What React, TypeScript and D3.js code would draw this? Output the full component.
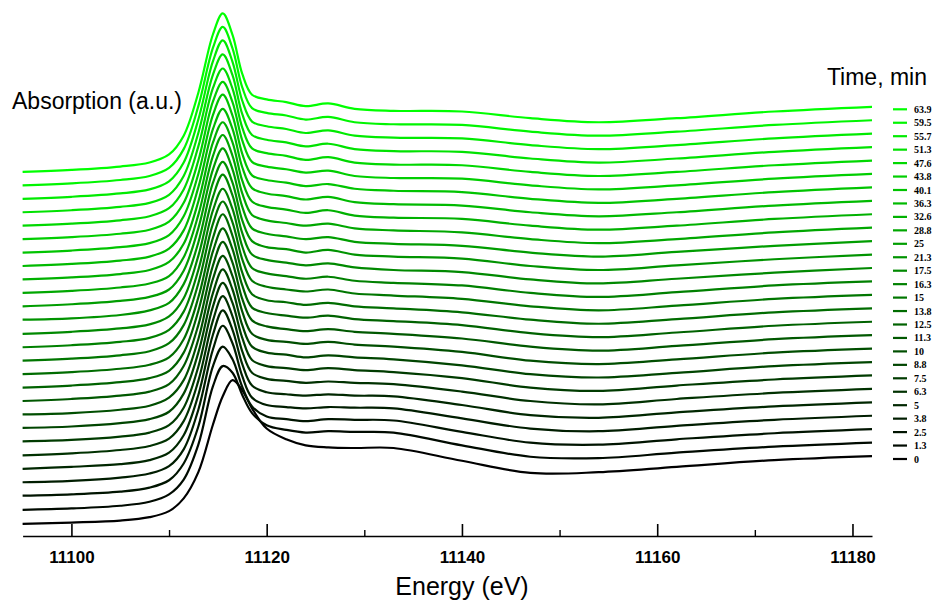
import React, { useRef, useEffect } from 'react';
import * as d3 from 'd3';

// time of each scan (min)
const times = [0, 1.3, 2.5, 3.8, 5, 6.3, 7.5, 8.8, 10, 11.3, 12.5, 13.8, 15, 16.3, 17.5,
  21.3, 25, 28.8, 32.6, 36.3, 40.1, 43.8, 47.6, 51.3, 55.7, 59.5, 63.9];

// energy grid (eV) where the spectra were read
const energies = [11095, 11100, 11105, 11108, 11110, 11111.5, 11113, 11114.5, 11115.5, 11116.5,
  11117.5, 11118.5, 11120, 11122, 11124, 11126.3, 11129, 11133, 11140, 11147, 11154, 11162, 11172, 11182];

// normalised absorption, one row per scan (before the stacking offset)
const spectra = [
  [0.00, 0.02, 0.05, 0.10, 0.19, 0.38, 0.77, 1.48, 1.90, 2.14, 1.99, 1.72, 1.42, 1.26, 1.17, 1.14, 1.13, 1.13, 0.94, 0.76, 0.77, 0.85, 0.95, 1.01],
  [0.01, 0.03, 0.07, 0.13, 0.24, 0.46, 0.98, 1.85, 2.15, 2.05, 1.72, 1.45, 1.27, 1.20, 1.16, 1.18, 1.17, 1.16, 0.97, 0.80, 0.78, 0.86, 0.95, 1.01],
  [0.02, 0.04, 0.08, 0.14, 0.25, 0.50, 1.05, 1.95, 2.24, 2.05, 1.64, 1.35, 1.20, 1.16, 1.13, 1.16, 1.15, 1.14, 0.97, 0.81, 0.78, 0.86, 0.95, 1.01],
  [0.02, 0.04, 0.09, 0.15, 0.26, 0.51, 1.10, 2.00, 2.35, 2.09, 1.60, 1.28, 1.17, 1.14, 1.12, 1.14, 1.13, 1.12, 0.97, 0.82, 0.78, 0.86, 0.95, 1.01],
  [0.02, 0.05, 0.09, 0.15, 0.26, 0.52, 1.12, 2.02, 2.38, 2.09, 1.58, 1.26, 1.16, 1.13, 1.11, 1.13, 1.11, 1.10, 0.97, 0.82, 0.78, 0.86, 0.95, 1.01],
  [0.02, 0.05, 0.10, 0.16, 0.27, 0.53, 1.13, 2.03, 2.39, 2.09, 1.57, 1.25, 1.16, 1.13, 1.10, 1.12, 1.10, 1.08, 0.97, 0.83, 0.78, 0.86, 0.95, 1.01],
  [0.03, 0.05, 0.10, 0.16, 0.27, 0.53, 1.14, 2.04, 2.39, 2.09, 1.57, 1.24, 1.15, 1.12, 1.09, 1.12, 1.09, 1.06, 0.97, 0.83, 0.78, 0.86, 0.95, 1.01],
  [0.03, 0.05, 0.10, 0.16, 0.27, 0.54, 1.15, 2.04, 2.39, 2.09, 1.56, 1.24, 1.15, 1.12, 1.08, 1.11, 1.08, 1.05, 0.96, 0.83, 0.78, 0.85, 0.95, 1.01],
  [0.03, 0.05, 0.10, 0.16, 0.28, 0.54, 1.15, 2.05, 2.39, 2.09, 1.56, 1.23, 1.14, 1.11, 1.08, 1.11, 1.07, 1.04, 0.96, 0.83, 0.78, 0.85, 0.95, 1.01],
  [0.03, 0.06, 0.11, 0.17, 0.28, 0.55, 1.16, 2.05, 2.40, 2.09, 1.55, 1.23, 1.14, 1.10, 1.07, 1.10, 1.06, 1.03, 0.96, 0.84, 0.78, 0.85, 0.95, 1.01],
  [0.03, 0.06, 0.11, 0.17, 0.28, 0.55, 1.17, 2.06, 2.40, 2.09, 1.55, 1.22, 1.14, 1.10, 1.07, 1.10, 1.05, 1.02, 0.96, 0.84, 0.78, 0.85, 0.95, 1.01],
  [0.03, 0.06, 0.11, 0.17, 0.28, 0.55, 1.17, 2.06, 2.41, 2.09, 1.54, 1.22, 1.13, 1.10, 1.06, 1.09, 1.04, 1.01, 0.95, 0.84, 0.78, 0.85, 0.95, 1.01],
  [0.03, 0.06, 0.11, 0.17, 0.29, 0.56, 1.18, 2.07, 2.40, 2.09, 1.54, 1.22, 1.13, 1.09, 1.06, 1.09, 1.03, 1.00, 0.95, 0.84, 0.78, 0.85, 0.95, 1.01],
  [0.03, 0.06, 0.11, 0.17, 0.29, 0.56, 1.18, 2.07, 2.39, 2.09, 1.53, 1.21, 1.13, 1.09, 1.05, 1.08, 1.02, 0.99, 0.95, 0.84, 0.78, 0.85, 0.95, 1.01],
  [0.03, 0.06, 0.11, 0.17, 0.29, 0.56, 1.19, 2.07, 2.40, 2.09, 1.53, 1.21, 1.13, 1.09, 1.05, 1.08, 1.02, 0.98, 0.95, 0.84, 0.78, 0.85, 0.94, 1.01],
  [0.04, 0.06, 0.11, 0.18, 0.29, 0.57, 1.19, 2.08, 2.39, 2.08, 1.52, 1.21, 1.12, 1.09, 1.04, 1.08, 1.01, 0.98, 0.95, 0.84, 0.78, 0.85, 0.94, 1.01],
  [0.04, 0.07, 0.12, 0.18, 0.29, 0.57, 1.20, 2.08, 2.39, 2.08, 1.52, 1.20, 1.12, 1.08, 1.04, 1.07, 1.00, 0.97, 0.94, 0.84, 0.78, 0.85, 0.94, 1.01],
  [0.04, 0.07, 0.12, 0.18, 0.29, 0.57, 1.20, 2.08, 2.39, 2.08, 1.52, 1.20, 1.12, 1.08, 1.04, 1.07, 1.00, 0.97, 0.94, 0.84, 0.78, 0.84, 0.94, 1.01],
  [0.04, 0.07, 0.12, 0.18, 0.30, 0.57, 1.20, 2.08, 2.38, 2.08, 1.51, 1.20, 1.12, 1.08, 1.03, 1.07, 0.99, 0.96, 0.94, 0.84, 0.78, 0.84, 0.94, 1.01],
  [0.04, 0.07, 0.12, 0.18, 0.30, 0.57, 1.21, 2.08, 2.38, 2.08, 1.51, 1.20, 1.12, 1.08, 1.03, 1.07, 0.99, 0.96, 0.94, 0.84, 0.78, 0.84, 0.94, 1.01],
  [0.04, 0.07, 0.12, 0.18, 0.30, 0.58, 1.21, 2.09, 2.39, 2.08, 1.51, 1.19, 1.12, 1.08, 1.03, 1.06, 0.99, 0.96, 0.94, 0.84, 0.78, 0.84, 0.94, 1.01],
  [0.04, 0.07, 0.12, 0.18, 0.30, 0.58, 1.21, 2.09, 2.38, 2.08, 1.51, 1.19, 1.12, 1.08, 1.03, 1.06, 0.98, 0.95, 0.94, 0.84, 0.78, 0.84, 0.94, 1.01],
  [0.04, 0.07, 0.12, 0.18, 0.30, 0.58, 1.22, 2.09, 2.38, 2.08, 1.50, 1.19, 1.12, 1.08, 1.02, 1.06, 0.98, 0.95, 0.94, 0.84, 0.78, 0.84, 0.94, 1.01],
  [0.04, 0.07, 0.12, 0.18, 0.30, 0.58, 1.22, 2.09, 2.39, 2.08, 1.50, 1.19, 1.12, 1.08, 1.02, 1.06, 0.98, 0.95, 0.94, 0.84, 0.78, 0.84, 0.94, 1.01],
  [0.04, 0.07, 0.12, 0.18, 0.30, 0.58, 1.22, 2.09, 2.40, 2.08, 1.50, 1.19, 1.12, 1.08, 1.02, 1.06, 0.98, 0.95, 0.94, 0.84, 0.78, 0.84, 0.94, 1.01],
  [0.04, 0.07, 0.12, 0.18, 0.30, 0.58, 1.22, 2.09, 2.40, 2.08, 1.50, 1.19, 1.12, 1.08, 1.02, 1.06, 0.98, 0.95, 0.94, 0.84, 0.78, 0.84, 0.94, 1.01],
  [0.04, 0.07, 0.12, 0.18, 0.30, 0.58, 1.22, 2.09, 2.40, 2.08, 1.50, 1.19, 1.12, 1.08, 1.02, 1.06, 0.98, 0.95, 0.94, 0.84, 0.78, 0.84, 0.94, 1.01],
];

const offsetStep = 0.2; // vertical shift between consecutive scans
const majorTicks = [11100, 11120, 11140, 11160, 11180];
const minorTicks = [11110, 11130, 11150, 11170];

const WIDTH = 932;
const HEIGHT = 605;

const App = () => {
  const chartRef = useRef<SVGSVGElement>(null);

  useEffect(() => {
    document.body.style.margin = '0';
    if (!chartRef.current) return;

    const svg = d3.select(chartRef.current)
      .attr('width', WIDTH)
      .attr('height', HEIGHT)
      .html('');

    const axisY = 536;

    const x = d3.scaleLinear()
      .domain([11095, 11182])
      .range([22.6, 872]);

    const y = d3.scaleLinear()
      .domain([-0.18, 7.8])
      .range([axisY, 0]);

    const color = (i: number) => d3.interpolateRgb('#000000', '#00ff00')(i / (times.length - 1));

    const line = d3.line<[number, number]>()
      .x(d => x(d[0]))
      .y(d => y(d[1]))
      .curve(d3.curveCatmullRom.alpha(0.5));

    svg.append('g')
      .selectAll('path')
      .data(spectra)
      .enter().append('path')
      .attr('d', (row, i) => line(row.map((v, j) => [energies[j], v + i * offsetStep] as [number, number])))
      .attr('fill', 'none')
      .attr('stroke', (_, i) => color(i))
      .attr('stroke-width', 2.2)
      .attr('stroke-linejoin', 'round');

    // x axis: major ticks with labels, minor ticks without
    const xAxis = svg.append('g')
      .attr('transform', `translate(0,${axisY})`)
      .call(d3.axisBottom(x).tickValues(majorTicks).tickSizeInner(-12).tickSizeOuter(0).tickPadding(15).tickFormat(d3.format('d')));

    xAxis.select('.domain').attr('stroke-width', 1.6);
    xAxis.selectAll('.tick line').attr('stroke-width', 1.6);
    xAxis.selectAll('.tick text')
      .attr('font-family', '"Liberation Sans", Arial, sans-serif')
      .attr('font-weight', 'bold')
      .attr('font-size', '17px')
      .attr('fill', '#000');

    const minorAxis = svg.append('g')
      .attr('transform', `translate(0,${axisY})`)
      .call(d3.axisBottom(x).tickValues(minorTicks).tickSizeInner(-6).tickSizeOuter(0).tickFormat(() => ''));
    minorAxis.select('.domain').remove();
    minorAxis.selectAll('.tick line').attr('stroke-width', 1.4);

    svg.append('text')
      .attr('x', 462)
      .attr('y', 595)
      .attr('text-anchor', 'middle')
      .attr('font-family', '"Liberation Sans", Arial, sans-serif')
      .attr('font-size', '25px')
      .text('Energy (eV)');

    svg.append('text')
      .attr('x', 12)
      .attr('y', 109)
      .attr('font-family', '"Liberation Sans", Arial, sans-serif')
      .attr('font-size', '23px')
      .text('Absorption (a.u.)');

    svg.append('text')
      .attr('x', 927)
      .attr('y', 85)
      .attr('text-anchor', 'end')
      .attr('font-family', '"Liberation Sans", Arial, sans-serif')
      .attr('font-size', '23px')
      .text('Time, min');

    // legend, latest scan on top
    const legendData = times.map((t, i) => ({ t, i })).reverse();
    const legendTop = 109.3;
    const legendStep = 13.45;

    const legend = svg.append('g');
    legend.selectAll('line')
      .data(legendData)
      .enter().append('line')
      .attr('x1', 893)
      .attr('x2', 907)
      .attr('y1', (_, k) => legendTop + k * legendStep)
      .attr('y2', (_, k) => legendTop + k * legendStep)
      .attr('stroke', d => color(d.i))
      .attr('stroke-width', 2.2);

    legend.selectAll('text')
      .data(legendData)
      .enter().append('text')
      .attr('x', 914)
      .attr('y', (_, k) => legendTop + k * legendStep + 3.5)
      .attr('font-family', '"Liberation Serif", "Times New Roman", serif')
      .attr('font-weight', 'bold')
      .attr('font-size', '10px')
      .attr('fill', '#000')
      .text(d => String(d.t));
  }, []);

  return (
    <div style={{ width: WIDTH, height: HEIGHT, overflow: 'hidden' }}>
      <svg ref={chartRef} style={{ display: 'block' }}></svg>
    </div>
  );
};

export default App;
